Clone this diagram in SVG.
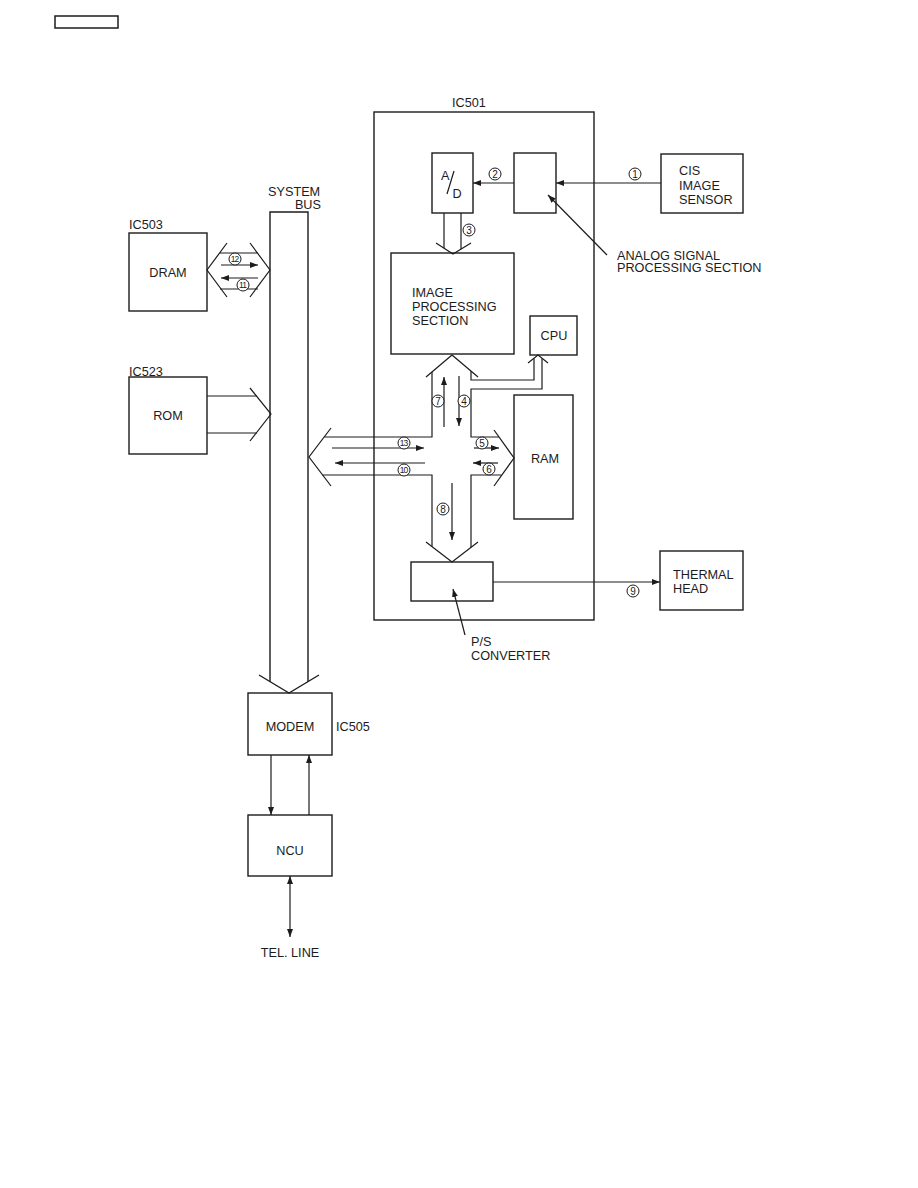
<svg xmlns="http://www.w3.org/2000/svg" width="918" height="1188" viewBox="0 0 918 1188">
<defs>
<style>
.b{fill:none;stroke:#1c1c1c;stroke-width:1.4}
.l{fill:none;stroke:#1c1c1c;stroke-width:1.2}
.a{fill:none;stroke:#1c1c1c;stroke-width:1.2;marker-end:url(#ah)}
.d{fill:none;stroke:#1c1c1c;stroke-width:1.2;marker-start:url(#ah);marker-end:url(#ah)}
text{font-family:"Liberation Sans",Arial,sans-serif;font-size:12.7px;fill:#1c1c1c}
.m{text-anchor:middle}
.c circle{fill:#fff;stroke:#1c1c1c;stroke-width:1}
.c text{font-size:10px;text-anchor:middle}
.c text.s{font-size:8.5px;letter-spacing:-0.9px}
</style>
<marker id="ah" markerUnits="userSpaceOnUse" markerWidth="8" markerHeight="6" refX="8" refY="3" orient="auto-start-reverse">
<path d="M0,0 L8,3 L0,6 z" fill="#1c1c1c"/>
</marker>
</defs>
<rect width="918" height="1188" fill="#fff"/>
<rect x="55" y="16" width="63" height="12" fill="none" stroke="#1c1c1c" stroke-width="1.5"/>

<g id="ic501">
<rect class="b" x="374" y="112" width="220" height="508"/>
<text x="452" y="106.5">IC501</text>
</g>
<g id="system-bus">
<path class="b" d="M270,682 V212 H308 V682"/>
<path class="b" d="M259,675 L289,693 L319,675"/>
<text x="268" y="195.5">SYSTEM</text>
<text x="321" y="209" text-anchor="end">BUS</text>
</g>
<g id="dram">
<rect class="b" x="129" y="233" width="78" height="78"/>
<text x="129" y="229">IC503</text>
<text class="m" x="168" y="277">DRAM</text>
</g>
<g id="rom">
<rect class="b" x="129" y="377" width="78" height="77"/>
<text x="129" y="375.5">IC523</text>
<text class="m" x="168" y="420">ROM</text>
</g>
<g id="ad">
<rect class="b" x="432" y="153" width="41" height="60"/>
<text x="441" y="180">A</text>
<line class="l" x1="454" y1="171" x2="447" y2="194"/>
<text x="452.5" y="197.5">D</text>
</g>
<g id="analog">
<rect class="b" x="514" y="153" width="42" height="60"/>
<text x="617" y="259.5">ANALOG SIGNAL</text>
<text x="617" y="272">PROCESSING SECTION</text>
</g>
<g id="cis">
<rect class="b" x="661" y="154" width="82" height="59"/>
<text x="679" y="175">CIS</text>
<text x="679" y="189.5">IMAGE</text>
<text x="679" y="204">SENSOR</text>
</g>
<g id="image-processing">
<rect class="b" x="391" y="253" width="123" height="101"/>
<text x="412" y="297">IMAGE</text>
<text x="412" y="311">PROCESSING</text>
<text x="412" y="325">SECTION</text>
</g>
<g id="cpu">
<rect class="b" x="530" y="316" width="47" height="39"/>
<text class="m" x="554" y="340">CPU</text>
</g>
<g id="ram">
<rect class="b" x="514" y="395" width="59" height="124"/>
<text class="m" x="545" y="463">RAM</text>
</g>
<g id="ps-converter">
<rect class="b" x="411" y="562" width="82" height="39"/>
<text x="471" y="646">P/S</text>
<text x="471" y="659.5">CONVERTER</text>
</g>
<g id="thermal-head">
<rect class="b" x="660" y="551" width="83" height="59"/>
<text x="673" y="578.5">THERMAL</text>
<text x="673" y="593">HEAD</text>
</g>
<g id="modem">
<rect class="b" x="248" y="693" width="84" height="62"/>
<text class="m" x="290" y="730.5">MODEM</text>
<text x="336" y="730.5">IC505</text>
</g>
<g id="ncu">
<rect class="b" x="248" y="815" width="84" height="61"/>
<text class="m" x="290" y="855">NCU</text>
</g>
<g id="tel-line">
<text class="m" x="290" y="957">TEL. LINE</text>
</g>

<g id="connectors">
<!-- DRAM <-> bus -->
<path class="l" d="M220,253 H258 M220,289 H258"/>
<path class="l" d="M227,243 L207,270 L227,297 M250,243 L270,270 L250,297"/>
<line class="a" x1="221" y1="265" x2="258" y2="265"/>
<line class="a" x1="258" y1="278" x2="221" y2="278"/>
<!-- ROM -> bus -->
<path class="l" d="M207,396 H257 M207,433 H257"/>
<path class="l" d="M250,388 L271,414 L250,441"/>
<!-- signal chain -->
<line class="a" x1="661" y1="183" x2="556" y2="183"/>
<line class="a" x1="514" y1="183" x2="473" y2="183"/>
<line class="a" x1="607" y1="255" x2="548" y2="195"/>
<!-- A/D -> image processing -->
<path class="l" d="M444,213 V248.2 M461,213 V249.1"/>
<path class="l" d="M436,243 L453,254 L471,243"/>
<!-- cross bus -->
<path class="l" d="M452,355 L426,377 M452,355 L478,377"/>
<path class="l" d="M432,372 V437 H324.2"/>
<path class="l" d="M322.5,475 H432 V546.6"/>
<path class="l" d="M471,547.4 V475 H501.4"/>
<path class="l" d="M499,437 H471 V389 H542 V358.5"/>
<path class="l" d="M471,371 V380 H534 V358.5"/>
<path class="l" d="M528,363 L538,355 L548,363"/>
<path class="l" d="M331,428 L309,457 L331,486"/>
<path class="l" d="M494,430 L514,458 L494,486"/>
<path class="l" d="M426,542 L452,562 L478,542"/>
<line class="a" x1="444" y1="427" x2="444" y2="377"/>
<line class="a" x1="459" y1="376" x2="459" y2="426"/>
<line class="a" x1="332" y1="448" x2="424" y2="448"/>
<line class="a" x1="425" y1="463" x2="335" y2="463"/>
<line class="a" x1="474" y1="448" x2="499" y2="448"/>
<line class="a" x1="498" y1="463" x2="473" y2="463"/>
<line class="a" x1="452" y1="483" x2="452" y2="540"/>
<!-- P/S -> thermal head -->
<line class="a" x1="493" y1="582" x2="660" y2="582"/>
<line class="a" x1="465" y1="635" x2="453" y2="589"/>
<!-- modem / ncu / line -->
<line class="a" x1="271" y1="755" x2="271" y2="815"/>
<line class="a" x1="309" y1="815" x2="309" y2="755"/>
<line class="d" x1="290" y1="876" x2="290" y2="937"/>
</g>

<g id="labels" class="c">
<circle cx="635" cy="174" r="6"/><text x="635" y="177.6">1</text>
<circle cx="495" cy="174" r="6"/><text x="495" y="177.6">2</text>
<circle cx="469" cy="230" r="6"/><text x="469" y="233.6">3</text>
<circle cx="464" cy="401" r="6"/><text x="464" y="404.6">4</text>
<circle cx="482" cy="443" r="6"/><text x="482" y="446.6">5</text>
<circle cx="489" cy="469" r="6"/><text x="489" y="472.6">6</text>
<circle cx="438" cy="401" r="6"/><text x="438" y="404.6">7</text>
<circle cx="443" cy="509" r="6"/><text x="443" y="512.6">8</text>
<circle cx="633" cy="591" r="6"/><text x="633" y="594.6">9</text>
<circle cx="404" cy="470" r="6"/><text class="s" x="403.6" y="473">10</text>
<circle cx="243" cy="285" r="6"/><text class="s" x="242.6" y="288">11</text>
<circle cx="235" cy="259" r="6"/><text class="s" x="234.6" y="262">12</text>
<circle cx="404" cy="443" r="6"/><text class="s" x="403.6" y="446">13</text>
</g>
</svg>
